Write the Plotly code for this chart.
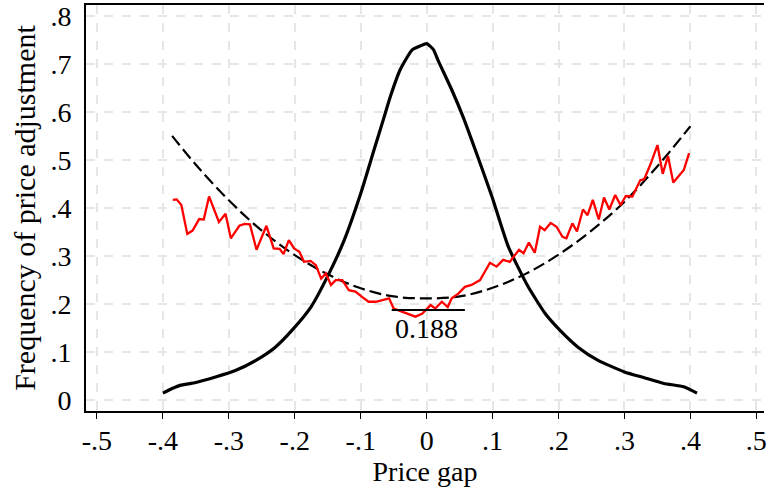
import plotly.graph_objects as go

# Density of price gaps (black solid)
dens_x = [-0.400, -0.385, -0.374, -0.350, -0.319, -0.290, -0.259, -0.230, -0.204, -0.175,
          -0.148, -0.125, -0.100, -0.080, -0.065, -0.055, -0.040, -0.022, -0.010, 0.000,
          0.010, 0.018, 0.038, 0.056, 0.070, 0.085, 0.099, 0.124, 0.154, 0.180,
          0.202, 0.230, 0.260, 0.300, 0.330, 0.360, 0.390, 0.410]
dens_y = [0.015, 0.025, 0.031, 0.037, 0.049, 0.062, 0.083, 0.110, 0.146, 0.195,
          0.264, 0.333, 0.430, 0.520, 0.587, 0.632, 0.688, 0.729, 0.737, 0.742,
          0.730, 0.705, 0.646, 0.587, 0.535, 0.478, 0.424, 0.319, 0.236, 0.180,
          0.146, 0.110, 0.083, 0.059, 0.047, 0.035, 0.028, 0.015]

# Empirical frequency of adjustment (red)
freq_x = [-0.385, -0.379, -0.372, -0.363, -0.355, -0.345, -0.338, -0.330, -0.315, -0.305,
          -0.297, -0.284, -0.276, -0.268, -0.258, -0.243, -0.232, -0.223, -0.217, -0.209,
          -0.201, -0.193, -0.186, -0.176, -0.168, -0.160, -0.153, -0.145, -0.138, -0.128,
          -0.118, -0.108, -0.098, -0.088, -0.077, -0.067, -0.057, -0.050, -0.035, -0.017,
          -0.007, 0.006, 0.013, 0.023, 0.032, 0.038, 0.048, 0.058, 0.068, 0.081,
          0.096, 0.106, 0.116, 0.126, 0.140, 0.147, 0.155, 0.164, 0.172, 0.179,
          0.188, 0.197, 0.206, 0.212, 0.221, 0.228, 0.237, 0.244, 0.252, 0.261,
          0.269, 0.277, 0.286, 0.294, 0.302, 0.312, 0.324, 0.330, 0.340, 0.350,
          0.358, 0.366, 0.374, 0.383, 0.390, 0.398]
freq_y = [0.417, 0.418, 0.406, 0.346, 0.353, 0.377, 0.376, 0.424, 0.371, 0.388,
          0.337, 0.363, 0.367, 0.366, 0.313, 0.363, 0.316, 0.315, 0.304, 0.333,
          0.316, 0.309, 0.288, 0.290, 0.281, 0.253, 0.264, 0.240, 0.250, 0.250,
          0.229, 0.226, 0.215, 0.205, 0.205, 0.208, 0.212, 0.191, 0.184, 0.174,
          0.180, 0.198, 0.191, 0.205, 0.194, 0.212, 0.222, 0.236, 0.240, 0.250,
          0.286, 0.278, 0.292, 0.288, 0.313, 0.306, 0.328, 0.307, 0.361, 0.354,
          0.369, 0.361, 0.340, 0.337, 0.368, 0.351, 0.397, 0.385, 0.417, 0.376,
          0.422, 0.397, 0.427, 0.406, 0.425, 0.424, 0.458, 0.460, 0.493, 0.531,
          0.471, 0.508, 0.453, 0.469, 0.479, 0.514]

# Quadratic fit (black dashed)
fit_x = [-0.386, -0.35, -0.30, -0.25, -0.20, -0.15, -0.10, -0.05, 0.00,
         0.05, 0.10, 0.15, 0.20, 0.25, 0.30, 0.35, 0.40]
fit_y = [0.550, 0.490, 0.416, 0.353, 0.302, 0.262, 0.233, 0.216, 0.212,
         0.216, 0.234, 0.263, 0.303, 0.353, 0.413, 0.487, 0.570]

# Marker of the minimum empirical frequency
min_x = [-0.053, 0.058]
min_y = [0.188, 0.188]
min_label = "0.188"

x_tickvals = [-0.5, -0.4, -0.3, -0.2, -0.1, 0, 0.1, 0.2, 0.3, 0.4, 0.5]
x_ticktext = ["-.5", "-.4", "-.3", "-.2", "-.1", "0", ".1", ".2", ".3", ".4", ".5"]
y_tickvals = [0, 0.1, 0.2, 0.3, 0.4, 0.5, 0.6, 0.7, 0.8]
y_ticktext = ["0", ".1", ".2", ".3", ".4", ".5", ".6", ".7", ".8"]

FONT = "Liberation Serif"
FS = 28

fig = go.Figure()
fig.add_trace(go.Scatter(x=dens_x, y=dens_y, mode="lines",
                         line=dict(color="black", width=3.2, shape="spline", smoothing=0.5)))
fig.add_trace(go.Scatter(x=fit_x, y=fit_y, mode="lines",
                         line=dict(color="black", width=2.2, dash="12px,5px", shape="spline")))
fig.add_trace(go.Scatter(x=freq_x, y=freq_y, mode="lines",
                         line=dict(color="#ff0000", width=2.3)))
fig.add_trace(go.Scatter(x=min_x, y=min_y, mode="lines",
                         line=dict(color="black", width=2)))

fig.add_annotation(x=0, y=0.188, text=min_label, showarrow=False,
                   yanchor="top", yshift=-1,
                   font=dict(family=FONT, size=FS, color="black"))

fig.update_layout(
    width=767, height=487,
    margin=dict(l=86, r=0, t=5, b=76),
    paper_bgcolor="white", plot_bgcolor="white",
    showlegend=False,
    font=dict(family=FONT, size=FS, color="black"),
)
fig.update_xaxes(
    range=[-0.5166, 0.5116],
    tickvals=x_tickvals, ticktext=x_ticktext,
    showline=True, linecolor="black", linewidth=2, mirror=True,
    ticks="outside", ticklen=6, tickwidth=1.2, tickcolor="black",
    ticklabeloverflow="allow", ticklabelstandoff=-3,
    showgrid=True, gridcolor="#e6e6e6", gridwidth=1.5, griddash="dash",
    zeroline=False,
    title=dict(text="Price gap", font=dict(family=FONT, size=FS), standoff=0),
)
fig.update_yaxes(
    range=[-0.0223, 0.8223],
    tickvals=y_tickvals, ticktext=y_ticktext,
    showline=True, linecolor="black", linewidth=2,
    ticks="", ticklabelstandoff=7,
    showgrid=True, gridcolor="#e6e6e6", gridwidth=1.5, griddash="dash",
    zeroline=False,
    title=dict(text="Frequency of price adjustment", font=dict(family=FONT, size=30), standoff=6),
)

fig.write_html("out.html")
